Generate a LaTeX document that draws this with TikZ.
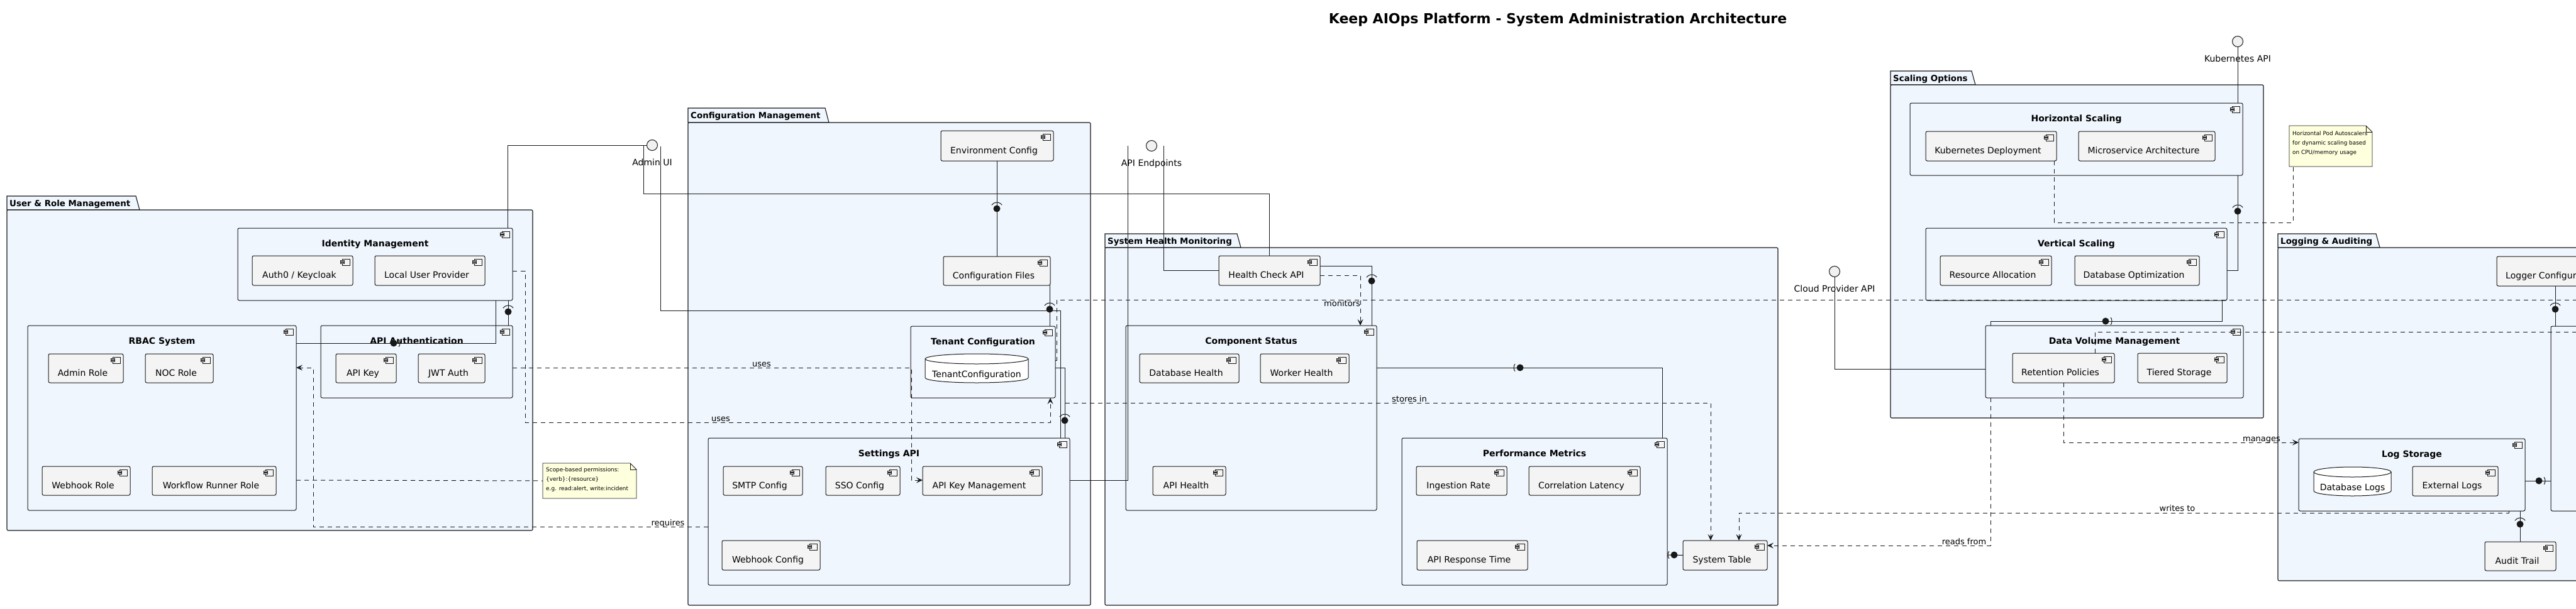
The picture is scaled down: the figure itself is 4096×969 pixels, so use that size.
\documentclass[tikz,border=0pt]{standalone}
\usepackage{fontspec}
\setmainfont{DejaVu Sans}
\usetikzlibrary{arrows.meta,calc}
\definecolor{lc}{HTML}{181818}
\definecolor{pkgfill}{HTML}{EFF6FE}
\definecolor{compfill}{HTML}{F4F4F4}
\definecolor{notefill}{HTML}{FEFFDD}
\definecolor{ifill}{HTML}{F1F1F1}
\tikzset{
 pkgline/.style={draw=lc, fill=pkgfill, line width=1.1pt},
 pkgtitle/.style={font=\bfseries\fontsize{13.4}{16}\selectfont, inner sep=0},
 compbox/.style={draw=lc, fill=compfill, line width=1pt, rounded corners=2.5pt, inner sep=0, outer sep=0},
 contbox/.style={draw=lc, fill=pkgfill, line width=1pt, rounded corners=2.5pt, inner sep=0, outer sep=0},
 lbl/.style={font=\fontsize{14}{16}\selectfont, inner sep=0},
 ttl/.style={font=\bfseries\fontsize{14}{16}\selectfont, inner sep=0},
 elbl/.style={font=\fontsize{13}{15}\selectfont, inner sep=0},
 iface/.style={circle, draw=lc, fill=ifill, line width=1pt, minimum size=17pt, inner sep=0, outer sep=0},
 conn/.style={draw=lc, line width=1pt},
 dep/.style={draw=lc, line width=1pt, dash pattern=on 7pt off 6pt},
 arr/.style={-{Stealth[length=10pt,width=9pt,inset=4pt]}},
 icn/.style={draw=lc, line width=0.8pt, fill=compfill},
 ghost/.style={draw=none, inner sep=0, outer sep=0},
 noteline/.style={draw=lc, fill=notefill, line width=0.9pt},
 notetext/.style={font=\fontsize{8.9}{15}\selectfont, inner sep=0, align=left},
}
\newcommand\cicon[1]{%
 \draw[icn] ($(#1.north east)+(-17,5)$) rectangle ($(#1.north east)+(-5,15)$);
 \draw[icn] ($(#1.north east)+(-20,7.5)$) rectangle ($(#1.north east)+(-14,9.5)$);
 \draw[icn] ($(#1.north east)+(-20,10.5)$) rectangle ($(#1.north east)+(-14,12.5)$);}
\newcommand\comp[6]{%
 \node[compbox, minimum width={(#4)-(#2)}, minimum height={(#5)-(#3)}] (#1) at ({((#2)+(#4))/2},{((#3)+(#5))/2}) {};
 \node[lbl, anchor=base] at ({((#2)+(#4))/2-5},{((#3)+(#5))/2+12}) {#6};
 \cicon{#1}}
\newcommand\cont[6]{%
 \node[contbox, minimum width={(#4)-(#2)}, minimum height={(#5)-(#3)}] (#1) at ({((#2)+(#4))/2},{((#3)+(#5))/2}) {};
 \node[ttl, anchor=base] at ({((#2)+(#4))/2},{(#3)+29}) {#6};
 \cicon{#1}}
\newcommand\pkg[7]{%
 \draw[pkgline] (#1,#4) -- (#1,#2) -- (#3,#2) -- ({(#3)+6},#4) -- cycle;
 \draw[pkgline, rounded corners=2pt] (#1,#4) rectangle (#5,#6);
 \node[pkgtitle, anchor=base west] at ({(#1)+4},{(#2)+16}) {#7};}
\newcommand\cyl[6]{%
 \node[ghost, minimum width={(#4)-(#2)}, minimum height={(#5)-(#3)}] (#1) at ({((#2)+(#4))/2},{((#3)+(#5))/2}) {};
 \pgfmathsetmacro\cylrx{((#4)-(#2))/2}
 \draw[lc, line width=1pt, fill=white] (#2,{(#3)+8}) -- (#2,{(#5)-8}) arc[start angle=180, end angle=360, x radius=\cylrx pt, y radius=8pt] -- (#4,{(#3)+8}) arc[start angle=0, end angle=180, x radius=\cylrx pt, y radius=8pt] -- cycle;
 \draw[lc, line width=1pt] (#2,{(#3)+8}) arc[start angle=180, end angle=360, x radius=\cylrx pt, y radius=8pt];
 \node[lbl, anchor=base] at ({((#2)+(#4))/2},{(#5)-9}) {#6};}
\newcommand\ballU[2]{\fill[lc] (#1,#2) circle[radius=5.5pt]; \draw[lc,line width=1pt] (#1,#2) ++(35:10pt) arc[start angle=35,end angle=145,radius=10pt];}
\newcommand\ballL[2]{\fill[lc] (#1,#2) circle[radius=5.5pt]; \draw[lc,line width=1pt] (#1,#2) ++(145:10pt) arc[start angle=145,end angle=215,radius=10pt];}
\newcommand\ballR[2]{\fill[lc] (#1,#2) circle[radius=5.5pt]; \draw[lc,line width=1pt] (#1,#2) ++(-35:10pt) arc[start angle=-35,end angle=35,radius=10pt];}
\begin{document}
\begin{tikzpicture}[x=1pt,y=-1pt]
\useasboundingbox (0,0) rectangle (4096,969);
\clip (0,0) rectangle (4096,969);
\fill[white] (0,0) rectangle (4096,969);

\node[font=\bfseries\fontsize{22}{26}\selectfont, anchor=base, inner sep=0] (title) at (2477,37) {Keep AIOps Platform - System Administration Architecture};

% packages
\pkg{11}{312}{216}{334}{847}{844}{User \& Role Management}
\pkg{1094}{172}{1312}{195}{1734}{963}{Configuration Management}
\pkg{1757}{372}{1967}{394}{2827}{963}{System Health Monitoring}
\pkg{3006}{113}{3135}{135}{3599}{665}{Scaling Options}
\pkg{3622}{372}{3778}{394}{4200}{924}{Logging \& Auditing}

% containers
\cont{idm}{378}{363}{815}{478}{Identity Management}
\cont{rbac}{44}{518}{471}{812}{RBAC System}
\cont{apiauth}{510}{518}{815}{633}{API Authentication}
\cont{tenant}{1448}{519}{1678}{633}{Tenant Configuration}
\cont{settings}{1126}{697}{1701}{931}{Settings API}
\cont{compstatus}{1790}{518}{2189}{812}{Component Status}
\cont{perf}{2229}{697}{2651}{931}{Performance Metrics}
\cont{hscale}{3037}{164}{3566}{279}{Horizontal Scaling}
\cont{vscale}{3062}{363}{3541}{478}{Vertical Scaling}
\cont{dvm}{3157}{518}{3567}{633}{Data Volume Management}
\cont{logstore}{3655}{698}{4015}{813}{Log Storage}
\node[contbox, minimum width=144, minimum height=294] (cutbox) at (4128,666) {};

% components
\comp{auth0}{401}{407}{561}{454}{Auth0 / Keycloak}
\comp{localuser}{596}{407}{771}{454}{Local User Provider}
\comp{admin}{77}{563}{196}{609}{Admin Role}
\comp{noc}{231}{563}{339}{609}{NOC Role}
\comp{webhookrole}{67}{742}{207}{788}{Webhook Role}
\comp{wfrole}{242}{742}{439}{788}{Workflow Runner Role}
\comp{apikey}{534}{563}{630}{609}{API Key}
\comp{jwt}{665}{563}{771}{609}{JWT Auth}
\comp{envcfg}{1496}{208}{1675}{256}{Environment Config}
\comp{cfgfiles}{1500}{408}{1670}{454}{Configuration Files}
\comp{smtp}{1150}{742}{1276}{788}{SMTP Config}
\comp{sso}{1313}{742}{1431}{788}{SSO Config}
\comp{apikeymgmt}{1467}{742}{1657}{788}{API Key Management}
\comp{webhookcfg}{1148}{860}{1304}{907}{Webhook Config}
\comp{hcapi}{1938}{407}{2099}{454}{Health Check API}
\comp{dbhealth}{1812}{563}{1970}{609}{Database Health}
\comp{workerhealth}{2004}{563}{2145}{609}{Worker Health}
\comp{apihealth}{1833}{742}{1949}{788}{API Health}
\comp{ingest}{2252}{742}{2396}{788}{Ingestion Rate}
\comp{corrlat}{2431}{742}{2608}{788}{Correlation Latency}
\comp{apiresp}{2253}{860}{2429}{907}{API Response Time}
\comp{systable}{2676}{860}{2810}{907}{System Table}
\comp{k8sdep}{3062}{209}{3270}{256}{Kubernetes Deployment}
\comp{microsvc}{3305}{209}{3522}{256}{Microservice Architecture}
\comp{resalloc}{3085}{407}{3262}{454}{Resource Allocation}
\comp{dbopt}{3299}{407}{3497}{454}{Database Optimization}
\comp{retention}{3200}{562}{3362}{609}{Retention Policies}
\comp{tiered}{3399}{562}{3541}{609}{Tiered Storage}
\comp{extlogs}{3836}{742}{3972}{789}{External Logs}
\comp{audit}{3951}{862}{4064}{908}{Audit Trail}
\node[compbox, minimum width=230, minimum height=47] (loggercfg) at (4085,431.5) {};
\node[lbl, anchor=base west] at (3984,443.5) {Logger Configuration};

% databases
\cyl{tenantdb}{1471}{563}{1635}{609}{TenantConfiguration}
\cyl{dblogs}{3679}{743}{3802}{789}{Database Logs}

% notes
\node[ghost, minimum width=149, minimum height=56] (note1) at (937.5,765) {};
\draw[noteline] (note1.north west) -- ($(note1.north east)+(-10,0)$) -- ($(note1.north east)+(0,10)$) -- (note1.south east) -- (note1.south west) -- cycle;
\draw[lc, line width=0.9pt] ($(note1.north east)+(-10,0)$) |- ($(note1.north east)+(0,10)$);
\node[notetext, anchor=north west] at ($(note1.north west)+(5,7)$) {Scope-based permissions:\\\{verb\}:\{resource\}\\e.g. read:alert, write:incident};
\node[ghost, minimum width=132, minimum height=65] (note2) at (3706,232.5) {};
\draw[noteline] (note2.north west) -- ($(note2.north east)+(-10,0)$) -- ($(note2.north east)+(0,10)$) -- (note2.south east) -- (note2.south west) -- cycle;
\draw[lc, line width=0.9pt] ($(note2.north east)+(-10,0)$) |- ($(note2.north east)+(0,10)$);
\node[notetext, anchor=north west] at ($(note2.north west)+(5,9)$) {Horizontal Pod Autoscalers\\for dynamic scaling based\\on CPU/memory usage};

% interfaces
\node[iface] (adminui) at (1037,231) {};
\node[lbl, anchor=base] at (1037,263) {Admin UI};
\node[iface] (apiep) at (1831,232) {};
\node[lbl, anchor=base] at (1831,264) {API Endpoints};
\node[iface] (k8sapi) at (3558,66) {};
\node[lbl, anchor=base] at (3558,98) {Kubernetes API};
\node[iface] (cloudapi) at (2917,432) {};
\node[lbl, anchor=base] at (2917,464) {Cloud Provider API};

\coordinate (farA) at (4200,477);
\coordinate (farB) at (4200,528);

% solid connectors
\draw[conn] (adminui.west) -| ($(idm.north east)+(-8,0)$);
\draw[conn] ($(adminui.center)+(-14,0)$) -- ++(0,77) -| (hcapi.north);
\draw[conn] ($(adminui.center)+(13,2)$) -- ++(0,261) -| ($(settings.north east)+(-15,0)$);
\draw[conn] ($(apiep.center)+(19,0)$) |- (hcapi.west);
\draw[conn] ($(apiep.center)+(-38,0)$) |- ($(settings.north east)+(0,67)$);
\draw[conn] (k8sapi.south) -- (k8sapi.south |- hscale.north);
\draw[conn] (cloudapi.south) |- ($(dvm.north west)+(0,69)$);
\draw[conn] (envcfg.south) -- (envcfg.south |- cfgfiles.north);
\draw[conn] ($(cfgfiles.south east)+(-1,0)$) -- ++(0,65);
\draw[conn] ($(tenant.north east)+(0,66)$) -| ($(settings.north east)+(-8,0)$);
\draw[conn] ($(idm.south east)+(-7,0)$) -- ($(apiauth.north east)+(-7,0)$);
\draw[conn] ($(idm.south east)+(-27,0)$) |- ($(rbac.north east)+(0,28)$);
\draw[conn] ($(hcapi.north east)+(0,16)$) -| ($(compstatus.north east)+(-8,0)$);
\draw[conn] ($(compstatus.north east)+(0,67)$) -| ($(perf.north east)+(-8,0)$);
\draw[conn] ($(perf.north east)+(0,186)$) -- (systable.west);
\draw[conn] ($(hscale.south east)+(-8,0)$) |- ($(vscale.north east)+(0,67)$);
\draw[conn] ($(vscale.south east)+(-8,0)$) -- ++(0,33) -| ($(dvm.north west)+(8,0)$);
\draw[conn] ($(loggercfg.south west)+(93,0)$) -- ++(0,64);
\draw[conn] ($(logstore.north east)+(0,67)$) -- ($(cutbox.north west)+(0,246)$);
\draw[conn] ($(logstore.south east)+(-8,0)$) -- ($(audit.north west)+(56,0)$);

% dashed connectors
\draw[dep, arr] ($(hcapi.north east)+(0,31)$) -| ($(compstatus.north east)+(-26,0)$);
\draw[dep, arr] ($(apiauth.north east)+(0,67)$) -| ($(apikeymgmt.west)+(-18,-1)$) -- ($(apikeymgmt.west)+(0,-1)$);
\draw[dep, arr] ($(idm.south east)+(0,-47)$) -- ++(20,0) |- ($(tenant.south east)+(-8,39)$) -- ($(tenant.south east)+(-8,0)$);
\draw[dep, arr] ($(tenant.south east)+(16,8)$) -| ($(systable.north west)+(44,0)$);
\draw[dep, arr] ($(settings.south west)+(0,-93)$) -- ++(-628,0) |- ($(rbac.north east)+(0,67)$);
\draw[dep] ($(rbac.north east)+(0,246)$) -- (note1.west);
\draw[dep] ($(tenant.north east)+(0,54)$) -- ++(2,0) |- (farA);
\draw[dep] ($(retention.north east)+(-31,0)$) |- (farB);
\draw[dep] ($(k8sdep.south west)+(204,0)$) |- ($(note2.south west)+(6,89)$) -- ($(note2.south west)+(6,0)$);
\draw[dep, arr] ($(dvm.south west)+(8,0)$) |- ($(systable.east)+(0,-15.5)$);
\draw[dep, arr] (retention.south) |- ($(logstore.north west)+(0,6)$);
\draw[dep, arr] ($(logstore.south east)+(-26,0)$) -- ++(0,3) -| ($(systable.north west)+(89,0)$);

% ball and socket
\ballU{1585}{332}
\ballU{1669}{492}
\ballU{1693}{669}
\ballU{808}{496}
\ballR{626}{546}
\ballU{2181}{447}
\ballL{2417}{585}
\ballL{2662}{883}
\ballU{3558}{336}
\ballR{3348}{511}
\ballU{4063}{492}
\ballR{4037}{765}
\ballU{4007}{834}

% edge labels
\node[elbl, anchor=base east] at (2163,487) {monitors};
\node[elbl, anchor=base] at (1211,583) {uses};
\node[elbl, anchor=base] at (1146,670) {uses};
\node[elbl, anchor=base] at (2241,639) {stores in};
\node[elbl, anchor=base] at (1062,836) {requires};
\node[elbl, anchor=base] at (3123,866) {reads from};
\node[elbl, anchor=base] at (3596,702) {manages};
\node[elbl, anchor=base] at (3462,813) {writes to};
\end{tikzpicture}
\end{document}
